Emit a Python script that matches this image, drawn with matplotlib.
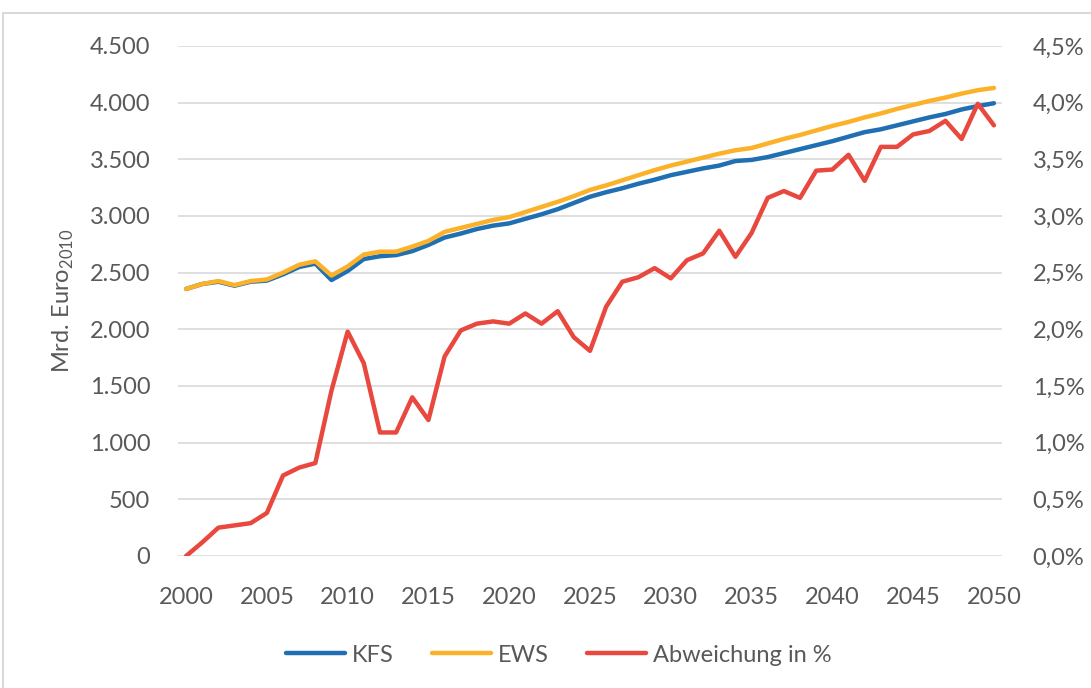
import matplotlib
matplotlib.use('Agg')
import matplotlib.pyplot as plt
from matplotlib.patches import Rectangle

plt.rcParams['font.family'] = ['Lato', 'DejaVu Sans']
plt.rcParams['mathtext.fontset'] = 'custom'
plt.rcParams['mathtext.rm'] = 'Lato'

years = list(range(2000, 2051))

ews = [2356, 2400, 2426, 2390, 2426, 2440, 2500, 2570, 2600, 2475,
       2555, 2660, 2685, 2685, 2730, 2780, 2860, 2895, 2930, 2965,
       2990, 3035, 3080, 3125, 3175, 3230, 3270, 3315, 3360, 3405,
       3445, 3480, 3515, 3550, 3580, 3600, 3640, 3680, 3715, 3755,
       3795, 3830, 3870, 3905, 3945, 3980, 4015, 4045, 4080, 4110,
       4130]

kfs = [2356, 2400, 2420, 2385, 2420, 2430, 2485, 2550, 2580, 2435,
       2515, 2620, 2645, 2655, 2690, 2745, 2810, 2845, 2885, 2915,
       2935, 2975, 3015, 3060, 3115, 3170, 3210, 3245, 3285, 3320,
       3360, 3390, 3420, 3445, 3485, 3495, 3520, 3555, 3590, 3625,
       3660, 3700, 3740, 3765, 3800, 3835, 3870, 3900, 3940, 3970,
       3995]

abw = [0.00, 0.12, 0.25, 0.27, 0.29, 0.38, 0.71, 0.78, 0.82, 1.46,
       1.98, 1.70, 1.09, 1.09, 1.40, 1.20, 1.76, 1.99, 2.05, 2.07,
       2.05, 2.14, 2.05, 2.16, 1.93, 1.81, 2.20, 2.42, 2.46, 2.54,
       2.45, 2.61, 2.67, 2.87, 2.64, 2.85, 3.16, 3.22, 3.16, 3.40,
       3.41, 3.54, 3.31, 3.61, 3.61, 3.72, 3.75, 3.84, 3.68, 3.99,
       3.80]

left_ticks = list(range(0, 4501, 500))
right_ticks = [0, 0.5, 1.0, 1.5, 2.0, 2.5, 3.0, 3.5, 4.0, 4.5]
x_ticks = list(range(2000, 2051, 5))

txt = '#595959'
c_kfs = '#1f6fb2'
c_ews = '#fbb128'
c_abw = '#e8483d'
fs = 17

fig = plt.figure(figsize=(10.91, 6.88), dpi=100)
fig.patches.append(Rectangle((3 / 1091, -0.01), 1.2, 1 - 13 / 688 + 0.01,
                             transform=fig.transFigure, fill=False,
                             edgecolor='#d9d9d9', lw=1.5))

ax = fig.add_axes([178 / 1091, 1 - 556 / 688, 824 / 1091, 510 / 688])
ax2 = ax.twinx()

for y in left_ticks:
    ax.axhline(y, color='#d9d9d9', lw=1.2, zorder=0)

l1, = ax.plot(years, kfs, color=c_kfs, lw=3.2, solid_capstyle='round', label='KFS')
l2, = ax.plot(years, ews, color=c_ews, lw=3.2, solid_capstyle='round', label='EWS')
l3, = ax2.plot(years, abw, color=c_abw, lw=3.2, solid_capstyle='round',
               label='Abweichung in %')

ax.set_xlim(1999.5, 2050.5)
ax.set_ylim(0, 4500)
ax2.set_ylim(0, 4.5)

ax.set_xticks(x_ticks)
ax.set_yticks(left_ticks)
ax.set_yticklabels([f'{v:,}'.replace(',', '.') for v in left_ticks])
ax2.set_yticks(right_ticks)
ax2.set_yticklabels([f'{v:.1f}%'.replace('.', ',') for v in right_ticks])

for a in (ax, ax2):
    for s in a.spines.values():
        s.set_visible(False)
    a.tick_params(length=0, labelsize=fs, colors=txt)
ax.tick_params(axis='x', pad=22)
ax.tick_params(axis='y', pad=20)
ax2.tick_params(axis='y', pad=22)

ax.set_ylabel('Mrd. Euro$_\\mathregular{2010}$', fontsize=fs, color=txt, labelpad=10)

fig.legend(handles=[l1, l2, l3], loc='center', bbox_to_anchor=(0.512, 1 - 655 / 688),
           ncol=3, frameon=False, fontsize=fs, labelcolor=txt,
           handlelength=2.5, handletextpad=0.3, columnspacing=1.6)

fig.savefig('out.png', dpi=100)
